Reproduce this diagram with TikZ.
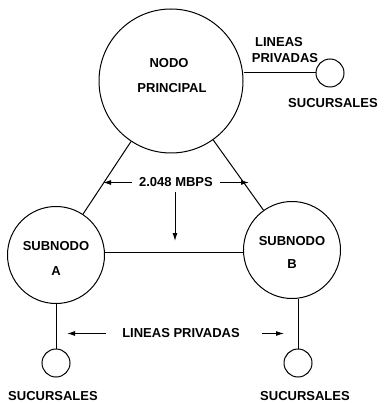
\documentclass[tikz,border=0pt]{standalone}
\usepackage{fontspec}
\setmainfont{Liberation Sans}
\usetikzlibrary{arrows.meta}
\begin{document}
\begin{tikzpicture}[x=1pt,y=-1pt,
  lbl/.style={font=\fontsize{13}{14}\selectfont\bfseries, inner sep=0pt},
  big/.style={circle, draw, line width=1pt, minimum size=144pt, inner sep=0pt},
  sub/.style={circle, draw, line width=1pt, minimum size=97pt, inner sep=0pt},
  suc/.style={circle, draw, line width=1pt, minimum size=28pt, inner sep=0pt},
  conn/.style={line width=1pt},
  arr/.style={line width=1pt, -{Latex[length=8pt,width=5pt]}}]
\useasboundingbox (0,0) rectangle (384,403);
% circles
\node[big] (P) at (171,81) {};
\node[sub] (A) at (56,255) {};
\node[sub] (B) at (292,250) {};
\node[suc] (S1) at (330,73) {};
\node[suc] (S2) at (56,363) {};
\node[suc] (S3) at (298,363) {};
% texts
\node[lbl] (t1) at (169,63.5) {NODO};
\node[lbl] (t2) at (172,88) {PRINCIPAL};
\node[lbl] (t3) at (56,246) {SUBNODO};
\node[lbl] (t4) at (56,271) {A};
\node[lbl] (t5) at (292,241) {SUBNODO};
\node[lbl] (t6) at (292,264) {B};
\node[lbl] (t7) at (279,42) {LINEAS};
\node[lbl] (t8) at (285,58) {PRIVADAS};
\node[lbl] (t9) at (333,103.5) {SUCURSALES};
\node[lbl] (t10) at (53,396) {SUCURSALES};
\node[lbl] (t11) at (305,396) {SUCURSALES};
\node[lbl] (mb) at (176,182.5) {2.048 MBPS};
\node[lbl] (lp) at (181,333.5) {LINEAS PRIVADAS};
% connectors
\draw[conn] (P) -- (A);
\draw[conn] (P) -- (B);
\draw[conn] (A.east |- 0,252) coordinate (ae) -- (B.west |- ae);
\draw[conn] (P.east |- S1) -- (S1);
\draw[conn] (A) -- (S2);
\draw[conn] (S3) -- (S3 |- B.south);
% arrows
\coordinate (m1a) at (132,182.5);
\coordinate (m1) at (103,182.5);
\coordinate (m2a) at (220,182.5);
\coordinate (m2) at (249,182.5);
\coordinate (m0) at (175,192);
\coordinate (m3) at (175,241);
\coordinate (l1a) at (106,333.5);
\coordinate (l1) at (67,333.5);
\coordinate (l2a) at (262,333.5);
\coordinate (l2) at (284,333.5);
\draw[arr] (m1a) -- (m1);
\draw[arr] (m2a) -- (m2);
\draw[arr] (m0) -- (m3);
\draw[arr] (l1a) -- (l1);
\draw[arr] (l2a) -- (l2);
\end{tikzpicture}
\end{document}
